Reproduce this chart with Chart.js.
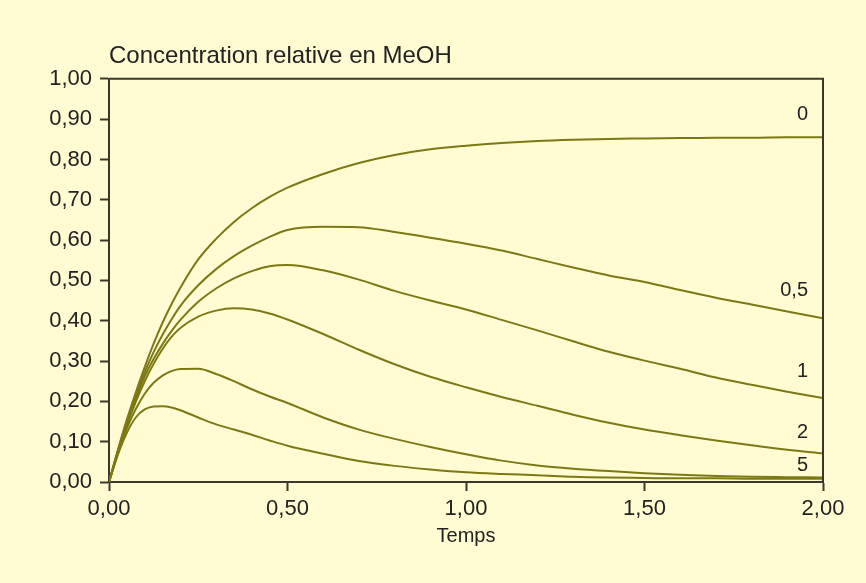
<!DOCTYPE html>
<html>
<head>
<meta charset="utf-8">
<script src="https://cdn.jsdelivr.net/npm/chart.js@4/dist/chart.umd.min.js"></script>
<style>
  html, body { margin: 0; padding: 0; background: #FFFCD3; }
  #wrap { width: 866px; height: 583px; }
</style>
</head>
<body>
<div id="wrap"><canvas id="c" width="866" height="583"></canvas></div>
<script>
// ---- data ----
const temps = [0, 0.025, 0.05, 0.075, 0.1, 0.125, 0.15, 0.175, 0.2, 0.25, 0.3, 0.35, 0.4, 0.45, 0.5, 0.6, 0.7, 0.8, 0.9, 1.0, 1.1, 1.2, 1.3, 1.4, 1.5, 1.6, 1.7, 1.8, 1.9, 2.0];

const serie0  = [0, 0.080, 0.155, 0.222, 0.285, 0.343, 0.395, 0.441, 0.482, 0.552, 0.603, 0.645, 0.679, 0.707, 0.730, 0.764, 0.791, 0.811, 0.825, 0.834, 0.841, 0.846, 0.849, 0.851, 0.852, 0.853, 0.854, 0.854, 0.855, 0.855];
const serie05 = [0, 0.078, 0.150, 0.213, 0.272, 0.322, 0.365, 0.403, 0.437, 0.488, 0.528, 0.560, 0.586, 0.608, 0.625, 0.633, 0.632, 0.620, 0.606, 0.591, 0.574, 0.553, 0.532, 0.512, 0.496, 0.476, 0.457, 0.440, 0.423, 0.406];
const serie1  = [0, 0.076, 0.146, 0.207, 0.262, 0.305, 0.342, 0.374, 0.402, 0.447, 0.480, 0.505, 0.523, 0.535, 0.538, 0.525, 0.502, 0.474, 0.450, 0.428, 0.402, 0.376, 0.349, 0.323, 0.301, 0.281, 0.259, 0.241, 0.224, 0.208];
const serie2  = [0, 0.074, 0.141, 0.199, 0.250, 0.293, 0.330, 0.360, 0.382, 0.410, 0.425, 0.431, 0.428, 0.418, 0.403, 0.367, 0.328, 0.292, 0.261, 0.235, 0.211, 0.189, 0.167, 0.147, 0.130, 0.116, 0.103, 0.091, 0.080, 0.071];
const serie5  = [0, 0.072, 0.133, 0.181, 0.219, 0.246, 0.264, 0.275, 0.280, 0.281, 0.268, 0.250, 0.230, 0.212, 0.196, 0.160, 0.130, 0.107, 0.087, 0.069, 0.053, 0.041, 0.033, 0.027, 0.022, 0.018, 0.015, 0.013, 0.012, 0.011];
const serie6  = [0, 0.068, 0.122, 0.160, 0.180, 0.187, 0.188, 0.185, 0.178, 0.160, 0.143, 0.130, 0.117, 0.103, 0.090, 0.070, 0.052, 0.040, 0.031, 0.024, 0.020, 0.017, 0.013, 0.011, 0.010, 0.009, 0.009, 0.008, 0.008, 0.008];

const seriesNames = ['0', '0,5', '1', '2', '5', ''];
const labelValues = [0.911, 0.476, 0.275, 0.122, 0.042]; // where the curve labels sit (value units)
const labelTemps = 1.958;

const xTickLabels = ['0,00', '0,50', '1,00', '1,50', '2,00'];
const yTickLabels = ['0,00', '0,10', '0,20', '0,30', '0,40', '0,50', '0,60', '0,70', '0,80', '0,90', '1,00'];

const titleText = 'Concentration relative en MeOH';
const xTitleText = 'Temps';

// ---- chart ----
const BG = '#FFFCD3';
const LINE = '#7C7914';
const AXIS = '#3A382C';
const TEXT = '#222222';
const FONT = "'Liberation Sans', Arial, sans-serif";

const allSeries = [serie0, serie05, serie1, serie2, serie5, serie6];
const datasets = allSeries.map((s, i) => ({
  label: seriesNames[i],
  data: temps.map((t, j) => ({ x: t, y: s[j] })),
  borderColor: LINE,
  borderWidth: 2,
  pointRadius: 0,
  fill: false,
  cubicInterpolationMode: 'monotone'
}));

const bgPlugin = {
  id: 'bg',
  beforeDraw(chart) {
    const ctx = chart.ctx;
    ctx.save();
    ctx.fillStyle = BG;
    ctx.fillRect(0, 0, chart.width, chart.height);
    ctx.restore();
  },
  afterDraw(chart) {
    const { ctx, chartArea: a, scales } = chart;
    ctx.save();
    ctx.strokeStyle = AXIS;
    ctx.lineWidth = 2;
    ctx.beginPath();
    ctx.moveTo(a.left, a.top);
    ctx.lineTo(a.right, a.top);
    ctx.lineTo(a.right, a.bottom);
    ctx.stroke();
    // curve labels
    ctx.fillStyle = TEXT;
    ctx.font = "20px " + FONT;
    ctx.textAlign = 'right';
    ctx.textBaseline = 'middle';
    const px = scales.x.getPixelForValue(labelTemps);
    labelValues.forEach((v, i) => {
      ctx.fillText(seriesNames[i], px, scales.y.getPixelForValue(v));
    });
    ctx.restore();
  }
};

new Chart(document.getElementById('c'), {
  type: 'line',
  data: { datasets },
  plugins: [bgPlugin],
  options: {
    responsive: false,
    animation: false,
    events: [],
    layout: { padding: { left: 0, right: 43, top: 0, bottom: 0 } },
    plugins: {
      legend: { display: false },
      tooltip: { enabled: false },
      title: {
        display: true,
        text: titleText,
        align: 'start',
        fullSize: false,
        color: TEXT,
        font: { family: FONT, size: 24, weight: 'normal' },
        padding: { top: 42, bottom: 8 }
      }
    },
    scales: {
      x: {
        type: 'linear',
        min: 0, max: 2,
        afterFit(s) { s.height = 101; },
        ticks: {
          stepSize: 0.5,
          color: TEXT,
          padding: 5,
          maxRotation: 0,
          font: { family: FONT, size: 22 },
          callback: (v, i) => xTickLabels[i]
        },
        grid: { drawOnChartArea: false, drawTicks: true, tickLength: 9, tickColor: AXIS, tickWidth: 2 },
        border: { display: true, color: AXIS, width: 2 },
        title: {
          display: true,
          text: xTitleText,
          color: TEXT,
          font: { family: FONT, size: 20 },
          padding: { top: 0, bottom: 35 }
        }
      },
      y: {
        type: 'linear',
        min: 0, max: 1,
        afterFit(s) { s.width = 109; },
        ticks: {
          stepSize: 0.1,
          color: TEXT,
          padding: 8,
          font: { family: FONT, size: 22 },
          callback: (v, i) => yTickLabels[i]
        },
        grid: { drawOnChartArea: false, drawTicks: true, tickLength: 9, tickColor: AXIS, tickWidth: 2 },
        border: { display: true, color: AXIS, width: 2 }
      }
    }
  }
});
</script>
</body>
</html>
